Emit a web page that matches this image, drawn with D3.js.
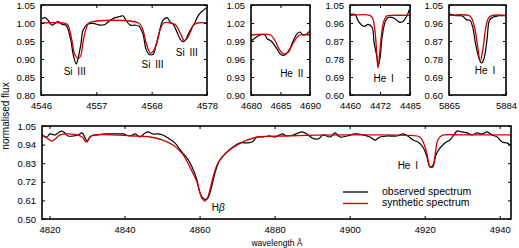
<!DOCTYPE html>
<html>
<head>
<meta charset="utf-8">
<script src="https://cdn.jsdelivr.net/npm/d3@7"></script>
<style>
  body { margin: 0; background: #fff; }
  svg { display: block; }
  text { font-family: "Liberation Sans", Arial, sans-serif; fill: #000; }
</style>
</head>
<body>
<div id="chart"></div>
<script>
// ---- data: [wavelength, normalised flux] ----
const siObs = [[4546.2,1.012],[4546.8,1.015],[4547.4,1.007],[4548.1,0.994],[4548.7,0.999],[4549.3,1.004],
  [4550.1,0.996],[4550.8,0.994],[4551.2,0.983],[4551.8,0.948],[4552.2,0.913],[4552.8,0.886],[4553.1,0.899],
  [4553.7,0.942],[4554.1,0.980],[4554.9,0.996],[4556.0,0.999],[4557.4,0.994],[4558.3,0.996],[4559.3,1.007],
  [4560.3,1.015],[4561.2,1.018],[4561.8,1.020],[4562.4,1.007],[4563.2,0.994],[4564.1,0.994],[4564.9,0.991],
  [4565.7,0.967],[4566.2,0.929],[4566.8,0.913],[4567.6,0.913],[4568.2,0.940],[4568.8,0.975],[4569.5,1.007],
  [4570.3,1.015],[4570.9,1.002],[4571.5,0.996],[4572.2,0.975],[4572.8,0.956],[4573.4,0.948],[4574.0,0.956],
  [4574.3,0.967],[4575.1,0.988],[4575.7,1.002],[4576.1,1.015],[4576.7,1.028],[4577.2,1.034],[4577.8,1.042]];
const siSyn = [[4546,1.0],[4550.1,1.0],[4551.1,0.996],[4551.9,0.956],[4552.5,0.913],[4553.1,0.902],
  [4553.6,0.907],[4554.2,0.956],[4554.8,0.988],[4555.2,1.0],[4564.8,1.0],[4565.6,0.983],[4566.2,0.948],
  [4567.1,0.916],[4567.6,0.921],[4568.4,0.948],[4569.0,0.983],[4569.6,1.0],[4571.1,1.0],[4572.0,0.994],
  [4573.0,0.967],[4573.6,0.951],[4574.1,0.956],[4574.8,0.975],[4575.4,0.994],[4576.2,1.0],[4578,1.0]];

const he2Obs = [[4680.0,0.990],[4680.7,0.995],[4681.5,1.000],[4682.4,1.000],[4682.7,0.994],[4683.4,0.990],
  [4683.9,0.984],[4684.4,0.977],[4684.9,0.969],[4685.4,0.966],[4685.9,0.968],[4686.6,0.977],[4687.1,0.989],
  [4687.8,1.002],[4688.3,1.005],[4688.8,1.000],[4689.5,1.002],[4689.8,1.006]];
const he2Syn = [[4680,1.0],[4683.3,1.0],[4684.0,0.992],[4684.8,0.976],[4685.4,0.969],[4686.3,0.971],
  [4687.0,0.984],[4687.8,0.996],[4688.3,1.0],[4690,1.0]];

const he4471Obs = [[4460.0,1.002],[4462.1,1.002],[4463.3,0.973],[4465.0,0.948],[4466.3,0.944],[4467.5,0.953],
  [4469.2,0.939],[4470.0,0.866],[4471.3,0.784],[4471.7,0.745],[4472.5,0.784],[4473.3,0.881],[4474.6,0.963],
  [4475.8,0.987],[4477.9,0.987],[4479.6,0.973],[4480.8,0.963],[4482.1,0.968],[4483.8,0.997],[4484.6,1.026]];
const he4471Syn = [[4460,0.998],[4468.2,0.998],[4469.4,0.985],[4470.4,0.92],[4471.2,0.80],[4471.7,0.736],
  [4472.3,0.80],[4473.1,0.90],[4474.0,0.965],[4475.3,0.995],[4477,0.998],[4485,0.998]];

const he5876Obs = [[5865.0,1.006],[5867.2,0.997],[5868.8,0.997],[5869.7,0.992],[5870.7,0.977],[5872.0,0.973],
  [5872.9,0.939],[5873.9,0.852],[5875.1,0.779],[5875.8,0.760],[5876.7,0.784],[5877.7,0.881],[5878.6,0.977],
  [5880.2,0.992],[5881.8,0.997],[5883.0,0.997],[5884.0,0.997]];
const he5876Syn = [[5865,0.998],[5871.5,0.998],[5872.5,0.985],[5873.5,0.94],[5874.5,0.85],[5875.4,0.769],
  [5876.4,0.84],[5877.2,0.93],[5878.0,0.98],[5879.0,0.996],[5884,0.998]];

const hbObs = [[4818.0,0.997],[4819.3,0.985],[4820.1,1.003],[4821.5,0.997],[4822.3,1.009],[4823.3,1.020],
  [4824.1,1.009],[4824.9,0.991],[4826.3,0.991],[4827.6,0.997],[4828.7,1.009],[4829.5,0.979],[4830.0,0.961],
  [4831.1,0.991],[4832.7,0.997],[4835.3,1.003],[4838.0,1.003],[4839.6,1.003],[4841.5,0.991],[4842.8,1.003],
  [4844.1,0.985],[4845.5,1.009],[4846.3,1.015],[4847.6,1.003],[4848.9,1.003],[4850.2,0.997],[4851.6,0.979],
  [4853.4,0.950],[4855.3,0.896],[4856.6,0.861],[4858.0,0.808],[4859.3,0.731],[4860.1,0.654],[4861.2,0.618],
  [4862.0,0.618],[4863.0,0.672],[4864.1,0.772],[4865.4,0.849],[4867.3,0.896],[4868.9,0.926],[4870.8,0.950],
  [4872.6,0.950],[4874.0,0.955],[4875.3,0.985],[4876.9,0.985],[4878.8,0.991],[4880.1,0.985],[4882.0,1.003],
  [4883.3,0.991],[4884.9,0.997],[4887.3,1.015],[4888.6,1.003],[4890.0,0.979],[4891.6,0.973],[4892.9,0.997],
  [4894.8,0.985],[4896.1,1.009],[4897.4,0.985],[4899.3,0.991],[4901.4,1.003],[4903.6,0.997],[4905.4,0.985],
  [4906.8,0.967],[4908.1,0.985],[4910.0,0.991],[4912.6,0.991],[4914.2,1.003],[4915.5,0.991],[4916.9,0.967],
  [4918.2,0.955],[4919.5,0.926],[4920.6,0.867],[4921.4,0.808],[4922.2,0.819],[4923.0,0.879],[4924.1,0.920],
  [4925.4,0.950],[4926.7,0.967],[4927.8,0.997],[4928.6,1.020],[4929.9,1.015],[4931.3,1.009],[4932.6,0.997],
  [4934.0,1.009],[4935.3,1.003],[4936.6,1.015],[4937.9,0.997],[4939.3,0.985],[4940.6,0.955],[4941.9,0.950],
  [4942.7,0.938]];
const hbSyn = [[4818.0,0.997],[4819.3,0.979],[4820.7,0.961],[4821.5,0.973],[4822.8,0.997],[4824.7,1.003],
  [4827.3,0.997],[4828.7,0.985],[4829.5,0.961],[4830.0,0.955],[4830.8,0.985],[4832.1,0.997],[4842.3,0.991],
  [4846.8,0.985],[4850.2,0.967],[4852.9,0.938],[4855.3,0.890],[4857.4,0.808],[4859.3,0.719],[4860.6,0.624],
  [4861.4,0.606],[4862.2,0.630],[4863.6,0.748],[4864.9,0.831],[4867.3,0.896],[4870.0,0.938],[4872.6,0.967],
  [4875.6,0.985],[4882.2,0.991],[4900.1,0.997],[4916.1,0.994],[4918.7,0.985],[4920.1,0.926],[4920.9,0.849],
  [4921.4,0.808],[4922.2,0.808],[4922.7,0.867],[4923.5,0.967],[4924.6,0.994],[4930,0.997],[4943,0.997]];

// tick labels
const siXLabels = ['4546', '4557', '4568', '4578'];
const he2XLabels = ['4680', '4685', '4690'];
const he4471XLabels = ['4460', '4472', '4485'];
const he5876XLabels = ['5865', '5884'];
const hbXTicks = [4820, 4840, 4860, 4880, 4900, 4920, 4940];
const siYTicks = [0.80, 0.85, 0.90, 0.95, 1.00, 1.05];
const he2YTicks = [0.90, 0.93, 0.96, 0.99, 1.02, 1.05];
const heYTicks = [0.60, 0.69, 0.78, 0.87, 0.96, 1.05];
const hbYTicks = [0.50, 0.61, 0.72, 0.83, 0.94, 1.05];

// line labels: [text, wavelength, flux]
const siNotes = [['Si III', 4552.5, 0.862], ['Si III', 4567.5, 0.881], ['Si III', 4574.1, 0.916]];
const he2Notes = [['He II', 4686.9, 0.935]];
const he4471Notes = [['He I', 4474.0, 0.677]];
const he5876Notes = [['He I', 5877.0, 0.716]];
const hbNotes = [['H\u03b2', 4865.0, 0.565], ['He I', 4915.5, 0.813]];

// ---- layout ----
const width = 519, height = 248;
const colors = { obs: '#000000', syn: '#cc0000' };

const panels = [
  { left: 41, right: 207, top: 5, bottom: 95, xDomain: [4546, 4578], yDomain: [0.80, 1.05],
    xLabels: siXLabels, yTicks: siYTicks, obs: siObs, syn: siSyn, notes: siNotes },
  { left: 251, right: 310, top: 5, bottom: 95, xDomain: [4680, 4690], yDomain: [0.90, 1.05],
    xLabels: he2XLabels, yTicks: he2YTicks, obs: he2Obs, syn: he2Syn, notes: he2Notes },
  { left: 350, right: 410, top: 5, bottom: 95, xDomain: [4460, 4485], yDomain: [0.60, 1.05],
    xLabels: he4471XLabels, yTicks: heYTicks, obs: he4471Obs, syn: he4471Syn, notes: he4471Notes },
  { left: 449, right: 506, top: 5, bottom: 95, xDomain: [5865, 5884], yDomain: [0.60, 1.05],
    xLabels: he5876XLabels, yTicks: heYTicks, obs: he5876Obs, syn: he5876Syn, notes: he5876Notes },
  { left: 42, right: 511, top: 126, bottom: 219, xDomain: [4818, 4943], yDomain: [0.50, 1.05],
    xTicks: hbXTicks, yTicks: hbYTicks, obs: hbObs, syn: hbSyn, notes: hbNotes }
];

const svg = d3.select('#chart').append('svg')
  .attr('width', width)
  .attr('height', height);

panels.forEach(function(p, i) {
  const x = d3.scaleLinear().domain(p.xDomain).range([p.left, p.right]);
  const y = d3.scaleLinear().domain(p.yDomain).range([p.bottom, p.top]);

  let xTicks = p.xTicks;
  let xFormat = d3.format('d');
  if (!xTicks) {
    const n = p.xLabels.length;
    xTicks = d3.range(n).map(k => p.xDomain[0] + k * (p.xDomain[1] - p.xDomain[0]) / (n - 1));
    xFormat = (d, k) => p.xLabels[k];
  }

  const g = svg.append('g').attr('class', 'panel-' + i);

  // clip so lines stay inside the frame
  const clipId = 'clip' + i;
  svg.append('clipPath').attr('id', clipId)
    .append('rect')
      .attr('x', p.left).attr('y', p.top)
      .attr('width', p.right - p.left).attr('height', p.bottom - p.top);

  const line = d3.line()
    .x(d => x(d[0]))
    .y(d => y(d[1]))
    .curve(d3.curveCatmullRom.alpha(0.5));

  const lines = g.append('g').attr('clip-path', 'url(#' + clipId + ')');
  lines.append('path')
    .attr('d', line(p.obs))
    .attr('fill', 'none')
    .attr('stroke', colors.obs)
    .attr('stroke-width', 1.2);
  lines.append('path')
    .attr('d', line(p.syn))
    .attr('fill', 'none')
    .attr('stroke', colors.syn)
    .attr('stroke-width', 1.3);

  // axes, ticks pointing inward on all four sides
  const tick = 3;
  const bottomAxis = g.append('g')
    .attr('transform', 'translate(0,' + p.bottom + ')')
    .call(d3.axisBottom(x).tickValues(xTicks).tickFormat(xFormat).tickSizeInner(-tick).tickSizeOuter(0).tickPadding(7));
  const topAxis = g.append('g')
    .attr('transform', 'translate(0,' + p.top + ')')
    .call(d3.axisTop(x).tickValues(xTicks).tickFormat('').tickSizeInner(-tick).tickSizeOuter(0));
  const leftAxis = g.append('g')
    .attr('transform', 'translate(' + p.left + ',0)')
    .call(d3.axisLeft(y).tickValues(p.yTicks).tickFormat(d3.format('.2f')).tickSizeInner(-tick).tickSizeOuter(0).tickPadding(6));
  const rightAxis = g.append('g')
    .attr('transform', 'translate(' + p.right + ',0)')
    .call(d3.axisRight(y).tickValues(p.yTicks).tickFormat('').tickSizeInner(-tick).tickSizeOuter(0));

  [bottomAxis, topAxis, leftAxis, rightAxis].forEach(function(a) {
    a.select('.domain').remove();
    a.selectAll('line').attr('stroke', '#000').attr('stroke-width', 1);
    a.selectAll('text')
      .style('font-family', '"Liberation Sans", Arial, sans-serif')
      .style('font-size', '9.5px')
      .attr('fill', '#000');
  });

  g.append('rect')
    .attr('x', p.left).attr('y', p.top)
    .attr('width', p.right - p.left).attr('height', p.bottom - p.top)
    .attr('fill', 'none')
    .attr('stroke', '#000')
    .attr('stroke-width', 1.6);

  // spectral line labels
  g.selectAll('text.note')
    .data(p.notes)
    .enter()
    .append('text')
      .attr('class', 'note')
      .attr('x', d => x(d[1]))
      .attr('y', d => y(d[2]))
      .attr('text-anchor', 'middle')
      .attr('dominant-baseline', 'middle')
      .style('font-size', '10px')
      .style('word-spacing', '2px')
      .each(function(d) {
        const t = d3.select(this);
        if (d[0].indexOf('\u03b2') >= 0) {
          t.append('tspan').text('H');
          t.append('tspan').style('font-style', 'italic').text('\u03b2');
        } else {
          t.text(d[0]);
        }
      });
});

// axis titles
svg.append('text')
  .attr('transform', 'translate(9,116) rotate(-90)')
  .attr('text-anchor', 'middle')
  .style('font-size', '10px')
  .text('normalised flux');

svg.append('text')
  .attr('x', 277)
  .attr('y', 246)
  .attr('text-anchor', 'middle')
  .style('font-size', '8.5px')
  .text('wavelength \u00c5');

// legend
const legend = svg.append('g');
const legendItems = [['observed spectrum', colors.obs, 192], ['synthetic spectrum', colors.syn, 203.5]];
legendItems.forEach(function(item) {
  legend.append('line')
    .attr('x1', 343).attr('x2', 368)
    .attr('y1', item[2]).attr('y2', item[2])
    .attr('stroke', item[1])
    .attr('stroke-width', 1.3);
  legend.append('text')
    .attr('x', 382)
    .attr('y', item[2])
    .attr('dominant-baseline', 'middle')
    .style('font-size', '10.5px')
    .text(item[0]);
});
</script>
</body>
</html>
